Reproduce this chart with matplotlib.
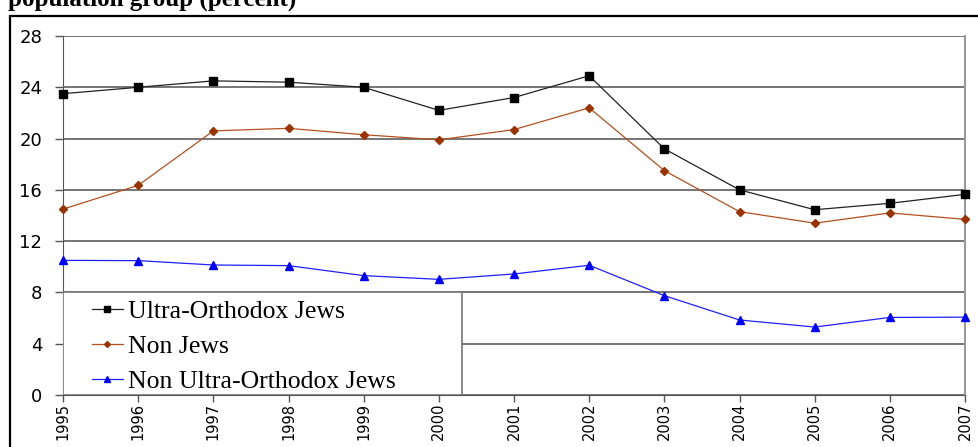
import matplotlib
matplotlib.use("Agg")
import matplotlib.pyplot as plt
from matplotlib.patches import Rectangle

years = [1995, 1996, 1997, 1998, 1999, 2000, 2001, 2002, 2003, 2004, 2005, 2006, 2007]
ultra_orthodox = [23.5, 24.0, 24.5, 24.4, 24.0, 22.2, 23.2, 24.9, 19.2, 16.0, 14.45, 14.95, 15.65]
non_jews = [14.5, 16.35, 20.6, 20.8, 20.3, 19.9, 20.7, 22.4, 17.5, 14.3, 13.4, 14.2, 13.7]
non_ultra_orthodox = [10.5, 10.48, 10.14, 10.09, 9.31, 9.02, 9.44, 10.12, 7.75, 5.85, 5.3, 6.05, 6.07]
y_ticks = [0, 4, 8, 12, 16, 20, 24, 28]
series_labels = ["Ultra-Orthodox Jews", "Non Jews", "Non Ultra-Orthodox Jews"]
title_text = "population group (percent)"

W, H = 979, 447
fig = plt.figure(figsize=(W / 100, H / 100), dpi=100)
fig.patch.set_facecolor("white")

# heading, partly above the top edge
fig.text(8 / W, 1 - 5.5 / H, title_text, ha="left", va="baseline",
         fontsize=18, fontweight="bold", family="Liberation Serif")

# outer frame of the chart block
fig.patches.append(Rectangle((10 / W, -0.05), 1.0, 1 - 16 / H + 0.05,
                             transform=fig.transFigure, fill=False,
                             edgecolor="black", linewidth=1.6))

left, right, top, bottom = 63, 965, 36, 395
ax = fig.add_axes([left / W, 1 - bottom / H, (right - left) / W, (bottom - top) / H])

ax.set_xlim(years[0], years[-1])
ax.set_ylim(y_ticks[0], y_ticks[-1])
ax.set_yticks(y_ticks)
ax.set_xticks(years)
ax.set_xticklabels([str(y) for y in years], rotation=90, fontsize=10.5,
                   family="DejaVu Sans")
ax.set_yticklabels([str(v) for v in y_ticks], fontsize=13, family="DejaVu Sans")
ax.tick_params(axis="y", direction="out", length=6, width=1, color="#555555", pad=9)
ax.tick_params(axis="x", direction="out", length=5, width=1, color="#555555", pad=0.5)

ax.yaxis.grid(True, color="#505050", linewidth=1.1, zorder=0)
ax.set_axisbelow(True)
ax.spines["top"].set_visible(False)
ax.spines["left"].set_color("#555555")
ax.spines["bottom"].set_color("#555555")
ax.spines["right"].set_color("#9a9a9a")
ax.spines["right"].set_linewidth(1.5)

l1, = ax.plot(years, ultra_orthodox, color="#222222", linewidth=0.9, marker="s",
              markersize=6, markerfacecolor="black", markeredgecolor="black",
              label=series_labels[0], clip_on=False, zorder=4)
l2, = ax.plot(years, non_jews, color="#b5501f", linewidth=0.9, marker="D",
              markersize=4, markerfacecolor="#993300", markeredgecolor="#993300",
              label=series_labels[1], clip_on=False, zorder=4)
l3, = ax.plot(years, non_ultra_orthodox, color="#2020ff", linewidth=0.9, marker="^",
              markersize=6, markerfacecolor="#0000ff", markeredgecolor="#0000ff",
              label=series_labels[2], clip_on=False, zorder=4)

# legend box sitting on the lower-left corner of the plot area
box_w = (462 - left) / (right - left)
box_h = 8 / y_ticks[-1]
ax.add_patch(Rectangle((0, 0), box_w, box_h, transform=ax.transAxes,
                       facecolor="white", edgecolor="#777777", linewidth=1.2, zorder=3))
leg = ax.legend(handles=[l1, l2, l3], loc="center left",
                bbox_to_anchor=(16 / (right - left), box_h / 2 - 3 / (bottom - top)),
                frameon=False,
                prop={"family": "Liberation Serif", "size": 18.5},
                handlelength=1.2, handletextpad=0.2, labelspacing=0.46,
                borderpad=0, markerscale=0.75)
leg.set_zorder(5)

fig.savefig("out.png", dpi=100, facecolor="white")
